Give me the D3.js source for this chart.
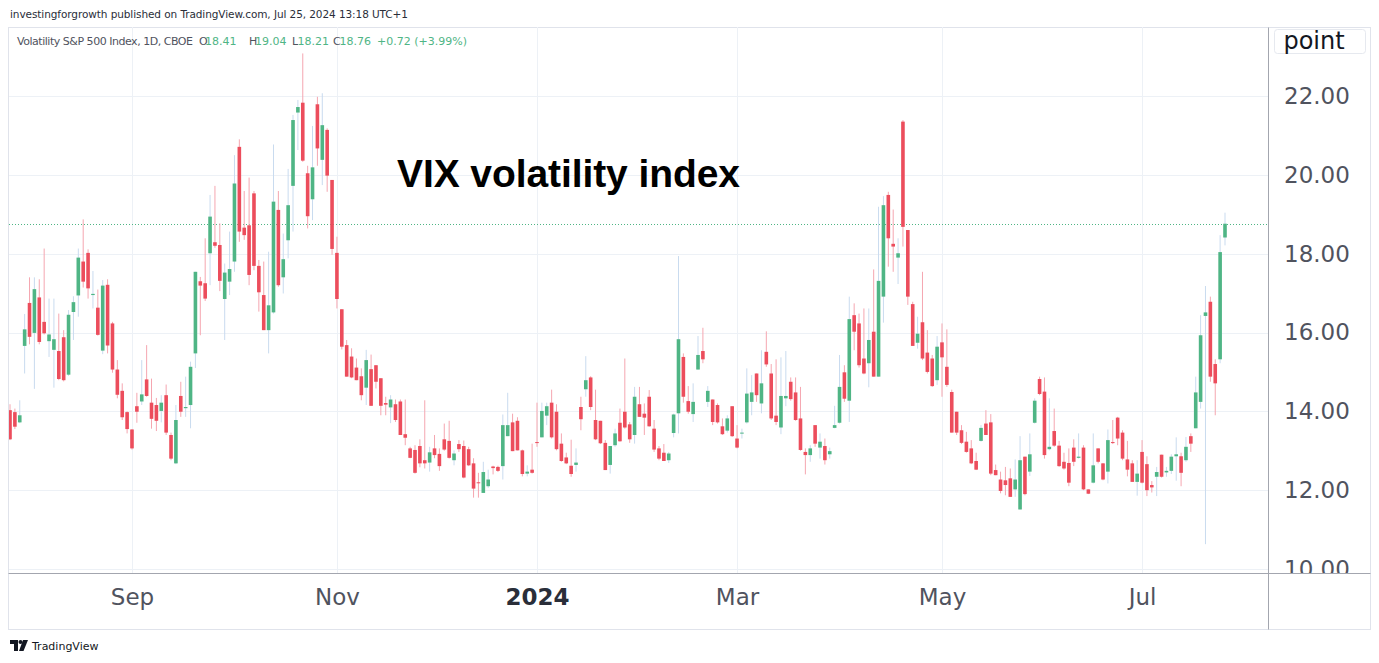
<!DOCTYPE html>
<html>
<head>
<meta charset="utf-8">
<script src="https://cdn.jsdelivr.net/npm/d3@7"></script>
<style>
  body { margin: 0; background: #fff; }
  svg { display: block; font-family: "DejaVu Sans", sans-serif; }
</style>
</head>
<body>
<svg id="chart"></svg>
<script>
// trading calendar (weekends + these exchange holidays are skipped)
const firstDay = '2023-07-28';
const lastDay = '2024-07-25';
const holidays = ['2023-09-04', '2023-11-23', '2023-12-25', '2024-01-01', '2024-01-15',
  '2024-02-19', '2024-03-29', '2024-05-27', '2024-06-19', '2024-07-04'];

// VIX daily candles
const vixOpen = [
  14.03, 13.98, 13.72, 15.66, 16.75, 15.99, 16.89, 16.27, 15.78, 15.56,
  15.53, 15.88, 14.93, 16.52, 16.94, 17.80, 18.02, 16.95, 16.63, 15.54,
  17.21, 16.23, 15.06, 14.52, 13.98, 13.54, 14.13, 14.25, 14.81, 14.22,
  14.16, 14.01, 14.41, 13.40, 12.68, 14.39, 14.08, 14.16, 15.47, 17.30,
  17.25, 18.01, 18.29, 18.22, 16.85, 17.29, 17.80, 20.71, 18.66, 18.72,
  19.53, 17.69, 16.95, 16.06, 16.51, 19.11, 17.40, 18.34, 19.72, 21.58,
  21.83, 20.04, 19.38, 21.79, 20.38, 21.14, 19.87, 18.02, 16.59, 15.68,
  15.39, 15.11, 14.89, 14.60, 15.07, 15.17, 14.84, 14.21, 14.10, 14.18,
  14.25, 13.42, 13.06, 13.02, 13.12, 12.76, 12.70, 13.06, 12.92, 13.29,
  13.25, 12.76, 13.17, 13.12, 13.04, 12.68, 12.20, 11.93, 12.10, 12.60,
  12.59, 12.61, 13.37, 13.72, 13.76, 13.01, 12.42, 12.52, 13.22, 13.34,
  13.89, 14.22, 13.99, 13.18, 12.83, 12.62, 12.64, 14.11, 14.56, 14.86,
  13.78, 13.76, 13.20, 12.64, 13.14, 13.71, 13.99, 13.67, 13.40, 14.18,
  13.94, 14.37, 13.56, 13.06, 12.95, 12.76, 13.45, 13.95, 15.38, 14.26,
  13.93, 15.06, 15.53, 14.24, 14.30, 14.16, 13.62, 13.51, 14.13, 13.31,
  13.44, 13.72, 14.24, 14.96, 14.20, 15.51, 14.96, 13.89, 13.59, 14.33,
  14.75, 14.48, 13.82, 12.97, 12.89, 13.65, 13.08, 13.12, 12.91, 13.58,
  13.71, 14.99, 14.27, 16.44, 16.23, 15.34, 15.22, 16.02, 14.88, 16.91,
  19.49, 18.25, 17.90, 21.35, 18.60, 16.72, 15.74, 16.26, 15.49, 15.34,
  14.79, 15.75, 15.13, 14.49, 13.99, 13.52, 13.23, 13.06, 12.74, 13.25,
  13.69, 13.72, 12.51, 12.27, 12.25, 12.30, 12.02, 11.51, 12.85, 12.47,
  13.71, 14.82, 14.50, 13.04, 13.50, 13.13, 12.72, 12.69, 13.08, 12.82,
  13.08, 12.02, 12.19, 13.06, 12.68, 12.47, 13.22, 13.84, 13.46, 12.78,
  12.68, 12.21, 12.97, 12.66, 12.13, 12.34, 12.90, 12.45, 12.49, 12.86,
  12.86, 12.76, 13.37, 13.57, 14.24, 16.42, 16.78, 15.20, 15.32, 18.41
];
const vixHigh = [
  14.18, 14.07, 14.28, 16.47, 17.40, 17.40, 17.35, 18.13, 16.86, 16.86,
  16.48, 16.06, 16.57, 16.92, 18.13, 18.87, 18.11, 17.56, 17.09, 17.33,
  17.35, 16.27, 15.30, 14.71, 14.00, 13.55, 14.47, 15.30, 15.68, 14.83,
  14.34, 14.41, 14.68, 13.46, 14.16, 14.75, 14.88, 15.26, 17.54, 17.41,
  18.39, 19.49, 19.72, 18.77, 17.75, 18.56, 20.50, 20.90, 19.59, 19.93,
  19.59, 17.84, 17.80, 18.05, 20.77, 19.59, 18.51, 20.15, 21.52, 21.90,
  23.08, 20.23, 21.24, 21.98, 22.07, 21.18, 19.87, 18.43, 16.59, 15.81,
  15.60, 15.34, 15.09, 15.56, 15.44, 15.17, 14.84, 14.37, 14.41, 14.30,
  14.30, 14.30, 13.10, 13.14, 13.29, 14.28, 13.10, 13.40, 13.06, 13.69,
  13.76, 13.01, 13.27, 13.26, 13.10, 12.81, 12.44, 12.72, 12.52, 12.62,
  12.62, 13.92, 14.47, 13.94, 13.85, 13.03, 12.63, 13.18, 14.22, 14.22,
  14.22, 14.55, 14.18, 13.44, 12.95, 13.28, 13.06, 14.37, 15.40, 14.89,
  14.55, 13.76, 13.27, 13.12, 13.56, 14.07, 15.34, 13.73, 14.62, 14.62,
  14.20, 14.54, 13.78, 13.12, 13.17, 12.97, 13.94, 17.94, 15.47, 14.64,
  14.71, 15.91, 16.12, 14.64, 14.30, 14.20, 13.82, 13.90, 14.13, 13.65,
  13.56, 15.09, 14.92, 14.96, 15.55, 16.03, 15.20, 15.32, 15.37, 15.53,
  14.86, 14.86, 14.62, 13.06, 13.14, 13.65, 13.44, 13.31, 13.08, 14.14,
  15.43, 15.17, 16.91, 16.74, 16.48, 16.61, 16.61, 17.60, 19.19, 19.46,
  19.57, 19.12, 18.39, 21.39, 18.60, 16.78, 16.40, 17.54, 16.06, 15.43,
  15.91, 16.23, 16.08, 14.55, 13.99, 13.65, 13.48, 13.27, 12.95, 13.65,
  14.03, 13.93, 12.65, 12.47, 12.59, 12.55, 12.78, 13.37, 12.85, 13.44,
  14.33, 14.88, 14.86, 14.33, 14.07, 13.25, 12.95, 13.06, 13.29, 13.44,
  13.14, 12.02, 13.44, 13.06, 12.69, 13.54, 13.78, 13.86, 13.52, 13.25,
  12.76, 12.76, 13.27, 12.86, 12.23, 12.59, 12.90, 12.59, 12.91, 13.34,
  12.95, 13.35, 13.44, 14.88, 16.44, 17.18, 16.91, 15.32, 18.47, 19.04
];
const vixLow = [
  13.27, 13.55, 13.70, 14.96, 15.70, 14.57, 15.70, 15.95, 15.38, 14.60,
  14.79, 14.76, 14.90, 15.81, 16.40, 17.14, 16.86, 16.61, 15.92, 15.45,
  15.47, 14.98, 14.33, 13.78, 13.44, 13.03, 13.71, 14.16, 14.37, 13.56,
  13.50, 13.72, 13.40, 12.76, 12.66, 13.86, 13.86, 13.57, 15.10, 15.93,
  16.80, 17.20, 18.15, 17.05, 15.81, 16.95, 17.54, 18.30, 18.35, 17.20,
  17.58, 16.53, 16.06, 15.47, 16.48, 17.16, 16.99, 17.88, 18.56, 20.63,
  20.33, 18.64, 18.85, 20.23, 19.74, 19.57, 17.97, 16.61, 15.57, 14.88,
  14.84, 14.79, 14.28, 14.16, 14.14, 14.58, 13.90, 13.90, 13.70, 13.73,
  13.40, 13.14, 12.81, 12.42, 12.58, 12.55, 12.47, 12.81, 12.49, 13.00,
  12.80, 12.63, 12.97, 12.30, 12.61, 11.81, 11.81, 11.93, 12.06, 12.40,
  12.46, 12.27, 13.37, 12.99, 13.01, 12.35, 12.35, 12.42, 13.10, 13.34,
  13.65, 13.31, 13.01, 12.72, 12.66, 12.34, 12.47, 13.52, 14.37, 14.03,
  13.27, 13.17, 12.51, 12.42, 13.10, 13.23, 13.56, 13.20, 13.18, 13.86,
  13.40, 13.61, 12.97, 12.76, 12.74, 12.69, 13.34, 13.44, 14.22, 13.94,
  13.73, 15.06, 15.22, 14.11, 13.65, 13.69, 13.40, 13.46, 13.35, 13.06,
  13.31, 13.69, 13.90, 14.24, 13.95, 15.13, 13.78, 13.65, 13.42, 14.13,
  14.27, 13.76, 13.00, 12.40, 12.72, 13.10, 12.80, 12.65, 12.80, 13.57,
  13.69, 14.24, 13.73, 15.55, 15.11, 14.94, 14.61, 14.88, 14.88, 16.25,
  17.67, 17.54, 17.23, 18.18, 16.70, 15.66, 15.59, 15.30, 14.96, 14.62,
  14.67, 14.37, 14.62, 13.46, 13.40, 13.17, 12.95, 12.66, 12.51, 13.23,
  13.40, 12.38, 12.38, 11.92, 11.87, 11.83, 11.83, 11.51, 11.87, 12.36,
  13.69, 14.41, 12.80, 13.01, 13.10, 12.59, 12.52, 12.10, 12.61, 12.80,
  12.00, 11.90, 12.17, 12.68, 12.25, 12.17, 13.17, 13.14, 12.76, 12.35,
  12.21, 11.86, 12.17, 11.85, 11.94, 11.85, 12.32, 12.34, 12.41, 12.24,
  12.10, 12.72, 12.97, 13.57, 14.07, 10.63, 14.75, 13.90, 15.22, 18.21
];
const vixClose = [
  13.29, 13.61, 13.90, 16.08, 15.89, 17.10, 15.76, 15.98, 15.95, 15.83,
  14.82, 14.79, 16.45, 16.77, 17.90, 17.29, 17.12, 16.98, 15.94, 17.19,
  15.67, 15.06, 14.42, 13.85, 13.55, 13.06, 13.99, 14.43, 14.39, 13.81,
  13.76, 14.22, 13.46, 12.80, 13.78, 13.99, 14.11, 15.13, 17.54, 17.19,
  16.86, 18.94, 18.20, 17.31, 17.52, 17.61, 19.78, 18.56, 18.47, 17.46,
  17.69, 17.02, 16.06, 16.69, 19.32, 17.20, 17.86, 19.23, 21.39, 21.72,
  20.36, 18.95, 20.19, 20.67, 21.26, 19.98, 18.12, 16.85, 15.64, 14.88,
  14.86, 14.79, 14.41, 15.30, 14.14, 14.75, 14.14, 14.17, 14.30, 13.78,
  13.40, 13.33, 12.82, 12.44, 12.68, 12.68, 12.96, 12.89, 12.61, 13.03,
  12.82, 12.93, 13.04, 12.32, 12.63, 12.04, 12.19, 12.46, 12.27, 12.56,
  12.49, 13.65, 13.65, 12.99, 13.01, 12.41, 12.47, 12.44, 13.20, 14.01,
  14.13, 13.34, 13.04, 12.74, 12.68, 12.41, 12.70, 13.80, 14.79, 14.11,
  13.29, 13.19, 12.51, 13.12, 13.44, 13.24, 13.59, 13.29, 14.37, 13.86,
  13.84, 13.62, 13.03, 12.80, 12.74, 12.93, 13.92, 15.83, 14.37, 13.99,
  14.24, 15.43, 15.32, 14.52, 13.73, 13.72, 13.42, 13.82, 13.37, 13.08,
  13.46, 14.45, 14.48, 14.41, 14.71, 15.19, 13.82, 13.73, 14.39, 14.39,
  14.31, 13.78, 13.02, 12.89, 13.06, 13.18, 13.23, 12.76, 12.99, 13.65,
  14.62, 14.32, 16.34, 16.02, 15.17, 14.96, 15.81, 14.88, 17.31, 19.23,
  18.39, 18.18, 18.01, 18.68, 16.91, 15.66, 15.97, 15.34, 15.00, 14.64,
  15.64, 15.37, 14.67, 13.46, 13.46, 13.20, 12.97, 12.68, 12.52, 13.58,
  13.40, 12.42, 12.38, 11.98, 12.13, 11.83, 12.27, 12.76, 11.90, 12.91,
  14.27, 14.44, 12.89, 13.10, 13.13, 12.61, 12.55, 12.19, 12.72, 12.85,
  12.02, 11.91, 12.63, 12.72, 12.27, 13.27, 13.20, 13.31, 12.80, 12.52,
  12.21, 12.42, 12.19, 12.00, 12.07, 12.46, 12.34, 12.49, 12.85, 12.91,
  12.44, 13.10, 13.18, 14.48, 15.93, 16.51, 14.88, 14.71, 18.04, 18.76
];

const yTicks = [10, 12, 14, 16, 18, 20, 22];
const tickMonths = ['2023-09', '2023-11', '2024-01', '2024-03', '2024-05', '2024-07'];
const tickLabels = ['Sep', 'Nov', '2024', 'Mar', 'May', 'Jul'];

const upColor = '#4fb585';
const downColor = '#ec4d5c';


class DrawCandleTime {

  constructor(container) {
    this.setSize();
    this.days = this.tradingDays();
    this.scaleFunc();
    this.svg = d3.select(container)
      .attr('width', this.W)
      .attr('height', this.H);

    this.drawFrame();
    this.drawGrid();
    this.drawCandles();
    this.drawAxis();
    this.drawTexts();
  }

  setSize() {
    this.W = 1379;
    this.H = 663;
    // plot area (price pane) and the right price scale
    this.plot = { left: 9, right: 1268, top: 27, bottom: 573 };
    this.frame = { left: 8.5, right: 1370.5, top: 27.5, bottom: 629.5 };
  }

  tradingDays() {
    const fmt = d3.utcFormat('%Y-%m-%d');
    return d3.utcDay.range(new Date(firstDay), d3.utcDay.offset(new Date(lastDay), 1))
      .filter(d => d.getUTCDay() % 6 !== 0 && !holidays.includes(fmt(d)))
      .map(fmt);
  }

  scaleFunc() {
    this.x = d3.scalePoint()
      .domain(this.days)
      .range([10, 1225]);
    this.y = d3.scaleLinear()
      .domain([10, 22])
      .range([569, 96]);
  }

  drawFrame() {
    const f = this.frame;
    this.svg.append('rect')
      .attr('width', this.W).attr('height', this.H)
      .attr('fill', '#fff');
    this.svg.append('rect')
      .attr('x', f.left).attr('y', f.top)
      .attr('width', f.right - f.left).attr('height', f.bottom - f.top)
      .attr('fill', 'none')
      .attr('stroke', '#e0e3eb');

    const defs = this.svg.append('defs');
    defs.append('clipPath').attr('id', 'plotClip')
      .append('rect')
      .attr('x', this.plot.left).attr('y', this.plot.top)
      .attr('width', this.plot.right - this.plot.left)
      .attr('height', this.plot.bottom - this.plot.top);
    defs.append('clipPath').attr('id', 'scaleClip')
      .append('rect')
      .attr('x', this.plot.right).attr('y', this.plot.top)
      .attr('width', this.W - this.plot.right)
      .attr('height', this.plot.bottom - this.plot.top);
  }

  //网格线
  drawGrid() {
    const p = this.plot;
    const grid = this.svg.append('g').attr('class', 'grid');
    grid.selectAll('line.h')
      .data(yTicks)
      .join('line')
      .attr('class', 'h')
      .attr('x1', p.left).attr('x2', p.right)
      .attr('y1', d => Math.round(this.y(d)) + 0.5)
      .attr('y2', d => Math.round(this.y(d)) + 0.5)
      .attr('stroke', '#edf1f6');

    this.tickDays = tickMonths.map(m => this.days.find(d => d.startsWith(m)));
    grid.selectAll('line.v')
      .data(this.tickDays)
      .join('line')
      .attr('class', 'v')
      .attr('x1', d => Math.round(this.x(d)) + 0.5)
      .attr('x2', d => Math.round(this.x(d)) + 0.5)
      .attr('y1', p.top).attr('y2', p.bottom)
      .attr('stroke', '#edf1f6');

    // last price line
    const last = vixClose[vixClose.length - 1];
    grid.append('line')
      .attr('x1', p.left).attr('x2', p.right)
      .attr('y1', Math.round(this.y(last)) + 0.5)
      .attr('y2', Math.round(this.y(last)) + 0.5)
      .attr('stroke', upColor)
      .attr('stroke-dasharray', '1 2');
  }

  //绘制K线
  drawCandles() {
    const bodyW = 3.6;
    const g = this.svg.append('g')
      .attr('clip-path', 'url(#plotClip)');

    const candles = g.selectAll('g.candle')
      .data(this.days)
      .join('g')
      .attr('class', 'candle');

    candles.append('line')
      .attr('x1', d => this.x(d))
      .attr('x2', d => this.x(d))
      .attr('y1', (d, i) => this.y(vixHigh[i]))
      .attr('y2', (d, i) => this.y(vixLow[i]))
      .attr('stroke', (d, i) => vixClose[i] >= vixOpen[i] ? '#c9dbef' : '#f5a6b0')
      .attr('stroke-width', 1);

    candles.append('rect')
      .attr('x', d => this.x(d) - bodyW / 2)
      .attr('width', bodyW)
      .attr('y', (d, i) => this.y(Math.max(vixOpen[i], vixClose[i])))
      .attr('height', (d, i) => Math.max(1, Math.abs(this.y(vixOpen[i]) - this.y(vixClose[i]))))
      .attr('fill', (d, i) => vixClose[i] >= vixOpen[i] ? upColor : downColor);
  }

  //绘制x轴、y轴
  drawAxis() {
    const p = this.plot;
    const f = this.frame;

    const yAxis = d3.axisRight(this.y)
      .tickValues(yTicks)
      .tickFormat(d3.format('.2f'))
      .tickSize(0)
      .tickPadding(16);
    const yG = this.svg.append('g')
      .attr('clip-path', 'url(#scaleClip)')
      .append('g')
      .attr('transform', `translate(${p.right},0)`)
      .call(yAxis);
    yG.select('.domain').remove();
    yG.selectAll('text')
      .attr('font-family', '"DejaVu Sans", sans-serif')
      .attr('font-size', 23)
      .attr('fill', '#50535e');

    const labels = tickLabels;
    const xAxis = d3.axisBottom(this.x)
      .tickValues(this.tickDays)
      .tickFormat((d, i) => labels[i])
      .tickSize(0)
      .tickPadding(16);
    const xG = this.svg.append('g')
      .attr('transform', `translate(0,${p.bottom})`)
      .call(xAxis);
    xG.select('.domain').remove();
    xG.selectAll('text')
      .attr('font-family', '"DejaVu Sans", sans-serif')
      .attr('font-size', 23)
      .attr('fill', (d, i) => labels[i] === '2024' ? '#2a2e39' : '#50535e')
      .attr('font-weight', (d, i) => labels[i] === '2024' ? 'bold' : 'normal');

    // pane separators
    this.svg.append('line')
      .attr('x1', f.left).attr('x2', f.right)
      .attr('y1', p.bottom + 0.5).attr('y2', p.bottom + 0.5)
      .attr('stroke', '#a3a6af');
    this.svg.append('line')
      .attr('x1', p.right + 0.5).attr('x2', p.right + 0.5)
      .attr('y1', f.top).attr('y2', f.bottom)
      .attr('stroke', '#a3a6af');

    // unit box at the top of the price scale
    this.svg.append('rect')
      .attr('x', 1274.5).attr('y', 29.5)
      .attr('width', 91).attr('height', 24)
      .attr('rx', 3)
      .attr('fill', '#fff')
      .attr('stroke', '#e6e9ef');
    this.svg.append('text')
      .attr('x', 1314).attr('y', 49)
      .attr('text-anchor', 'middle')
      .attr('font-size', 24)
      .attr('fill', '#131722')
      .text('point');
  }

  drawTexts() {
    const n = vixClose.length - 1;
    const change = vixClose[n] - vixClose[n - 1];
    const pct = change / vixClose[n - 1] * 100;
    const f2 = d3.format('.2f');

    this.svg.append('text')
      .attr('x', 10).attr('y', 18)
      .attr('font-size', 10.5)
      .attr('fill', '#2a2e39')
      .attr('textLength', 398)
      .text('investingforgrowth published on TradingView.com, Jul 25, 2024 13:18 UTC+1');

    // legend line
    const legend = this.svg.append('g').attr('font-size', 11);
    legend.append('text')
      .attr('x', 17).attr('y', 45)
      .attr('fill', '#50535e')
      .attr('textLength', 176)
      .text('Volatility S&P 500 Index, 1D, CBOE');
    const parts = [
      ['O', 199, '#50535e'], [f2(vixOpen[n]), 205, upColor],
      ['H', 249, '#50535e'], [f2(vixHigh[n]), 255, upColor],
      ['L', 292, '#50535e'], [f2(vixLow[n]), 297.5, upColor],
      ['C', 333, '#50535e'], [f2(vixClose[n]), 339.5, upColor],
      [`${change >= 0 ? '+' : ''}${f2(change)} (${change >= 0 ? '+' : ''}${f2(pct)}%)`, 377, upColor]
    ];
    legend.selectAll('text.part')
      .data(parts)
      .join('text')
      .attr('class', 'part')
      .attr('x', d => d[1]).attr('y', 45)
      .attr('fill', d => d[2])
      .text(d => d[0]);

    // annotation
    this.svg.append('text')
      .attr('x', 397).attr('y', 187)
      .attr('font-family', '"Liberation Sans", Arial, sans-serif')
      .attr('font-weight', 'bold')
      .attr('font-size', 39)
      .attr('textLength', 343)
      .attr('fill', '#000')
      .text('VIX volatility index');

    // footer logo
    const logo = this.svg.append('g').attr('fill', '#131722');
    logo.append('path').attr('d', 'M10,640 h8 v11 h-4 v-7 h-4 z');
    logo.append('circle').attr('cx', 20.5).attr('cy', 642).attr('r', 2);
    logo.append('path').attr('d', 'M23,640 h5 l-4.5,11 h-4.5 z');
    this.svg.append('text')
      .attr('x', 32).attr('y', 650)
      .attr('font-size', 11)
      .attr('fill', '#131722')
      .text('TradingView');
  }
}

new DrawCandleTime('#chart');
</script>
</body>
</html>
